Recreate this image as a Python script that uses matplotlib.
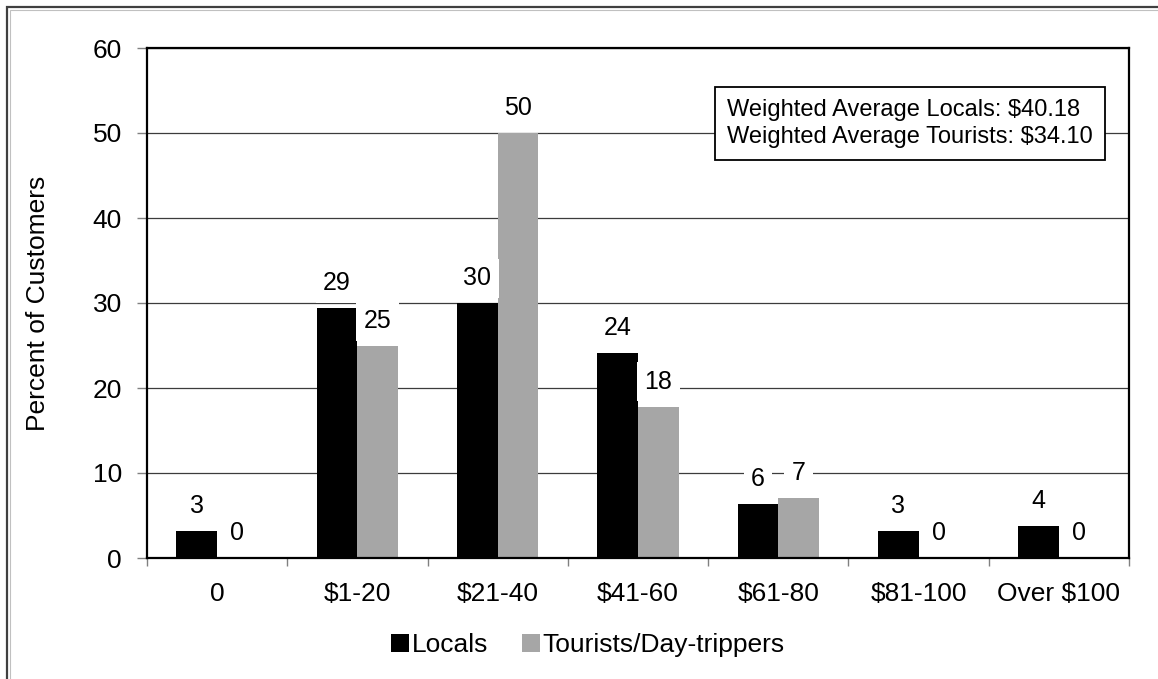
import matplotlib.pyplot as plt
from matplotlib.patches import Rectangle
import numpy as np

plt.rcParams['font.family'] = ['Liberation Sans', 'DejaVu Sans']

# Дані з графіка
categories = ['0', '$1-20', '$21-40', '$41-60', '$61-80', '$81-100', 'Over $100']
locals_pct = [3.2, 29.4, 30.0, 24.1, 6.4, 3.2, 3.8]
tourists_pct = [0.0, 24.9, 50.0, 17.8, 7.05, 0.0, 0.0]
series_names = ['Locals', 'Tourists/Day-trippers']
box_lines = ['Weighted Average Locals: $40.18', 'Weighted Average Tourists: $34.10']

W, H = 1158, 679
fig = plt.figure(figsize=(W / 100, H / 100), dpi=100)
ax = fig.add_axes([147 / W, 1 - 558 / H, 982 / W, 510 / H])

x = np.arange(len(categories))
bw = 0.29
b1 = ax.bar(x - bw / 2, locals_pct, bw, color='black', label=series_names[0], zorder=2)
b2 = ax.bar(x + bw / 2, tourists_pct, bw, color='#a6a6a6', label=series_names[1], zorder=2)

# Підписи значень з білим фоном
for bars, vals in [(b1, locals_pct), (b2, tourists_pct)]:
    for rect, v in zip(bars, vals):
        ax.annotate(f"{round(v)}", (rect.get_x() + rect.get_width() / 2, v),
                    xytext=(0, 18), textcoords='offset points',
                    ha='center', va='center', fontsize=18, zorder=5,
                    bbox=dict(boxstyle='square,pad=0.3', fc='white', ec='none'))

ax.set_xlim(-0.5, len(categories) - 0.5)
ax.set_ylim(0, 60)
ax.set_yticks(range(0, 61, 10))
ax.tick_params(axis='y', labelsize=19, length=7, width=1, color='#808080', pad=11)
ax.set_xticks(x)
ax.set_xticklabels(categories)
ax.tick_params(axis='x', which='major', labelsize=19, length=0, pad=17)
ax.set_xticks(np.arange(-0.5, len(categories), 1.0), minor=True)
ax.tick_params(axis='x', which='minor', length=6, width=1, color='#808080', direction='out')

ax.yaxis.grid(True, color='#3c3c3c', linewidth=0.9, zorder=0)
ax.set_axisbelow(True)
for s in ax.spines.values():
    s.set_linewidth(1.6)
    s.set_color('black')

ax.set_ylabel('Percent of Customers', fontsize=19)
ax.yaxis.set_label_coords(-0.099, 0.5)

ax.text(0.5906, 0.90, '\n'.join(box_lines), transform=ax.transAxes,
        ha='left', va='top', fontsize=17, linespacing=1.3, zorder=6,
        bbox=dict(boxstyle='square,pad=0.5', fc='white', ec='black', lw=1.3))

fig.legend(loc='center', bbox_to_anchor=(588 / W, 1 - 645 / H), ncol=2, frameon=False,
           fontsize=19, handlelength=0.68, handleheight=0.68, handletextpad=0.1,
           columnspacing=1.3)

# Рамка навколо графіка
fig.patches.append(Rectangle((7 / W, -0.05), 1.1, 1 - 7 / H + 0.05, transform=fig.transFigure,
                             fill=False, ec='#404040', lw=1.6))
fig.patches.append(Rectangle((9.5 / W, -0.05), 1.1, 1 - 9.5 / H + 0.05, transform=fig.transFigure,
                             fill=False, ec='#c0c0c0', lw=0.8))

fig.savefig('out.png', dpi=100)
